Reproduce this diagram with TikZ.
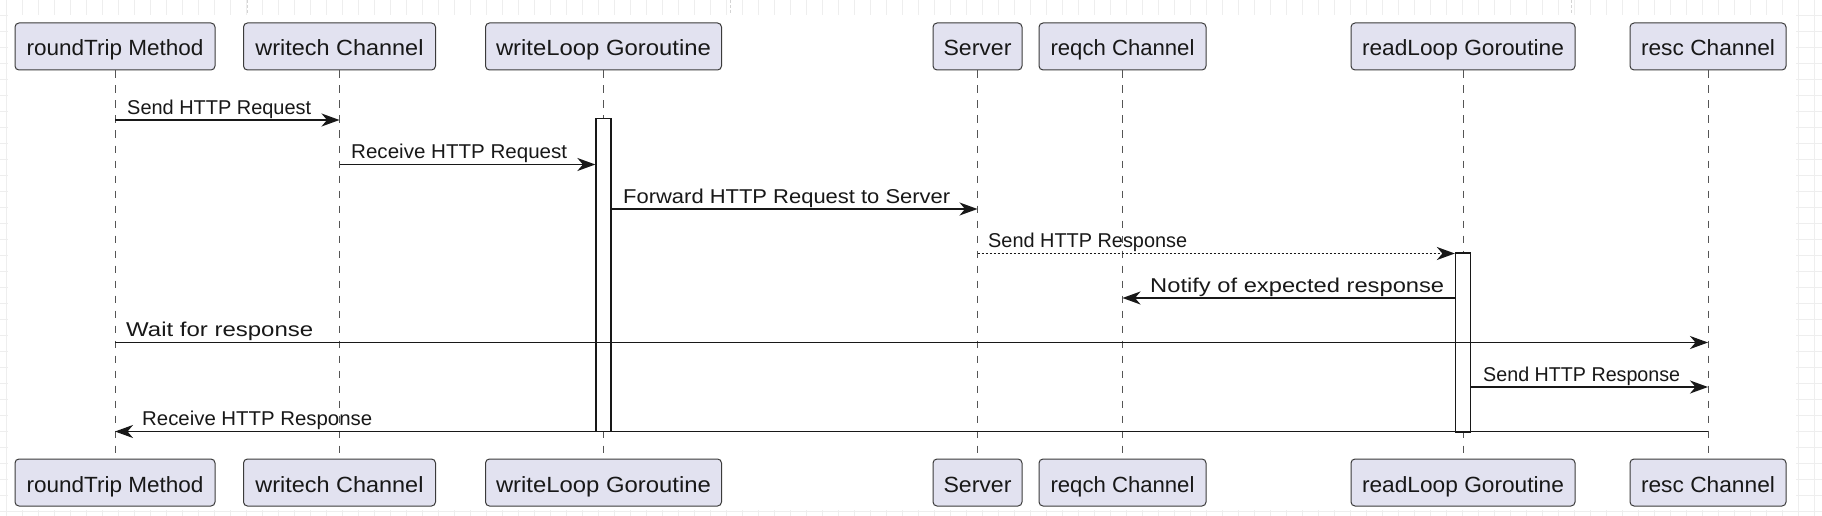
\documentclass[tikz,border=0pt]{standalone}
\usepackage{fontspec}
\setmainfont{Liberation Sans}
\usepackage{graphicx}
\usetikzlibrary{arrows.meta}
\definecolor{partfill}{HTML}{E2E2F0}
\definecolor{ink}{HTML}{181818}
\definecolor{lifegray}{HTML}{555555}
\definecolor{gridc}{HTML}{EEEEEE}
\definecolor{gridd}{HTML}{D4D4D4}
\newcommand{\fitw}[2]{\resizebox{#1pt}{\height}{#2}}
\begin{document}
\begin{tikzpicture}[x=1pt,y=-1pt,
  part/.style={draw=ink!85, line width=1pt, fill=partfill, rounded corners=4pt,
    minimum height=47pt, inner sep=0pt, text height=19pt, text depth=0pt,
    font=\fontsize{22}{26}\selectfont, text=ink},
  lifeline/.style={draw=lifegray, line width=1pt, dash pattern=on 7.5pt off 7.5pt},
  actbar/.style={draw=ink, line width=1.3pt, fill=white, minimum width=15pt, inner sep=0pt},
  msg/.style={draw=ink, line width=1.7pt, -{Stealth[length=18pt,width=13pt,inset=5.5pt]}},
  msgdot/.style={msg, dash pattern=on 2pt off 2pt},
  lbl/.style={anchor=base west, inner sep=0pt, font=\fontsize{20}{24}\selectfont, text=ink},
]
\useasboundingbox (0,0) rectangle (1822,516);
% background with faint grid in the margins
\fill[white] (0,0) rectangle (1822,516);
\foreach \i in {0,...,113} \draw[gridc, line width=0.8pt] ({6.7+16*\i},0) -- ({6.7+16*\i},516);
\foreach \j in {0,...,31} \draw[gridc, line width=0.8pt] (0,{15.3+16*\j}) -- (1822,{15.3+16*\j});
\foreach \xx in {247,730,1571} \draw[gridd, line width=0.8pt, dash pattern=on 3pt off 2pt] (\xx,0) -- (\xx,15);
\fill[white] (7.5,15) rectangle (1796,510);

% participants (top)
\node[part, minimum width=200pt] (rt) at (115,46.5) {\fitw{177}{roundTrip Method}};
\node[part, minimum width=192pt] (wc) at (339.5,46.5) {\fitw{168}{writech Channel}};
\node[part, minimum width=236pt] (wl) at (603.5,46.5) {\fitw{215}{writeLoop Goroutine}};
\node[part, minimum width=89pt] (sv) at (977.5,46.5) {\fitw{68}{Server}};
\node[part, minimum width=167pt] (rq) at (1122.5,46.5) {\fitw{144}{reqch Channel}};
\node[part, minimum width=224pt] (rl) at (1463,46.5) {\fitw{202}{readLoop Goroutine}};
\node[part, minimum width=156pt] (rs) at (1708,46.5) {\fitw{134}{resc Channel}};
% participants (bottom)
\node[part, minimum width=200pt] (rtb) at (115,482.5) {\fitw{177}{roundTrip Method}};
\node[part, minimum width=192pt] (wcb) at (339.5,482.5) {\fitw{168}{writech Channel}};
\node[part, minimum width=236pt] (wlb) at (603.5,482.5) {\fitw{215}{writeLoop Goroutine}};
\node[part, minimum width=89pt] (svb) at (977.5,482.5) {\fitw{68}{Server}};
\node[part, minimum width=167pt] (rqb) at (1122.5,482.5) {\fitw{144}{reqch Channel}};
\node[part, minimum width=224pt] (rlb) at (1463,482.5) {\fitw{202}{readLoop Goroutine}};
\node[part, minimum width=156pt] (rsb) at (1708,482.5) {\fitw{134}{resc Channel}};

% lifelines
\foreach \p in {rt,wc,wl,sv,rq,rl,rs}
  \draw[lifeline] (\p.south) -- (\p b.north);

% activation bars
\node[actbar, minimum height=313.5pt] (bar1) at (603.5,275) {};
\node[actbar, minimum height=179pt] (bar2) at (1463,342.5) {};

% message rows
\coordinate (r1) at (0,120);
\coordinate (r2) at (0,164.5);
\coordinate (r3) at (0,209);
\coordinate (r4) at (0,253.5);
\coordinate (r5) at (0,298);
\coordinate (r6) at (0,342.5);
\coordinate (r7) at (0,387);
\coordinate (r8) at (0,431.5);

\draw[msg] (rt |- r1) -- (wc |- r1);
\draw[msg] (wc |- r2) -- (bar1.west |- r2);
\draw[msg] (bar1.east |- r3) -- (sv |- r3);
\draw[msgdot] (sv |- r4) -- (bar2.west |- r4);
\draw[msg] (bar2.west |- r5) -- (rq |- r5);
\draw[msg] (rt |- r6) -- (rs |- r6);
\draw[msg] (bar2.east |- r7) -- (rs |- r7);
\draw[msg] (rs |- r8) -- (rt |- r8);

% message labels
\node[lbl] (l1) at (127,114) {\fitw{184}{Send HTTP Request}};
\node[lbl] (l2) at (351,158.5) {\fitw{216}{Receive HTTP Request}};
\node[lbl] (l3) at (623,203) {\fitw{327}{Forward HTTP Request to Server}};
\node[lbl] (l4) at (988,247.5) {\fitw{199}{Send HTTP Response}};
\node[lbl] (l5) at (1150,292) {\fitw{294}{Notify of expected response}};
\node[lbl] (l6) at (126,336.5) {\fitw{187}{Wait for response}};
\node[lbl] (l7) at (1483,381) {\fitw{197}{Send HTTP Response}};
\node[lbl] (l8) at (142,425.5) {\fitw{230}{Receive HTTP Response}};
\end{tikzpicture}
\end{document}
